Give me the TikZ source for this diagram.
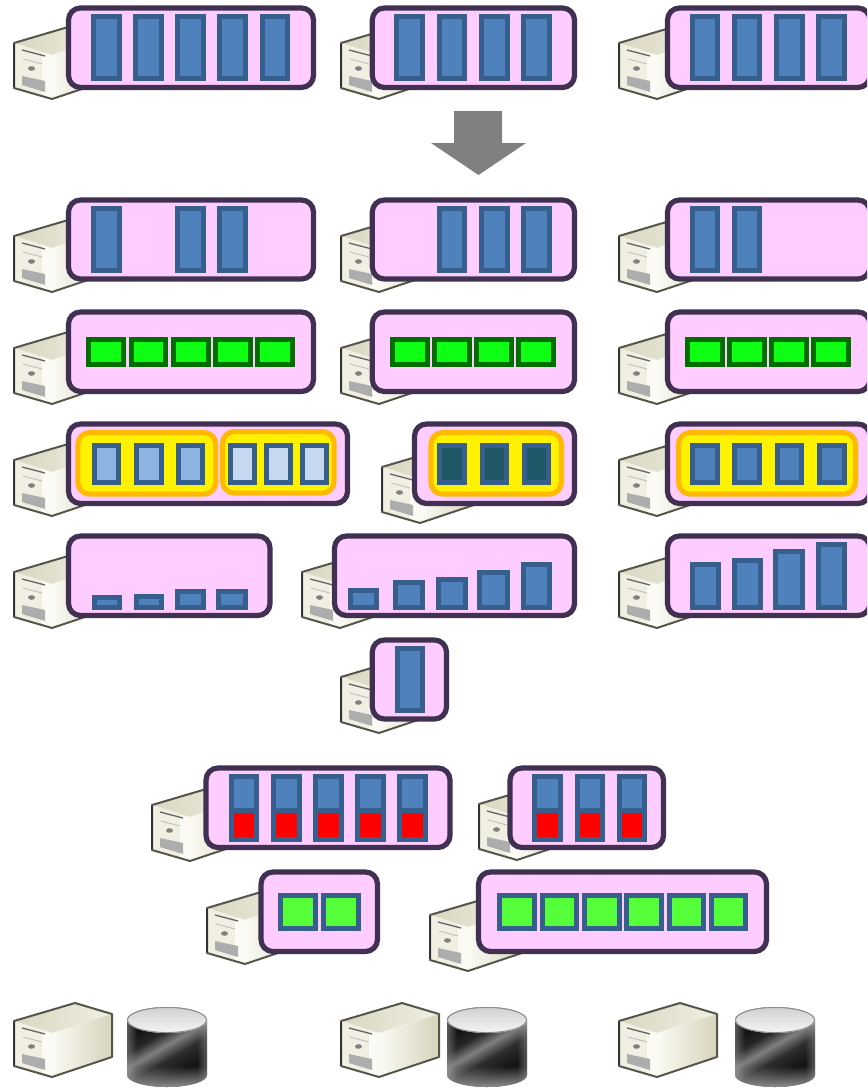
\documentclass[tikz,border=0pt]{standalone}
\usepackage{tikz}
\usetikzlibrary{fadings}
\definecolor{pillfill}{HTML}{FFCCFF}
\definecolor{pillline}{HTML}{403152}
\definecolor{barline}{HTML}{365F8E}
\definecolor{barfill}{HTML}{4F81BD}
\definecolor{lightA}{HTML}{8DB3E2}
\definecolor{lightB}{HTML}{C6D9F0}
\definecolor{tealbar}{HTML}{215868}
\definecolor{greenA}{HTML}{0FFF14}
\definecolor{greenline}{HTML}{006F00}
\definecolor{greenB}{HTML}{55FF3A}
\definecolor{ringline}{HTML}{FFB900}
\definecolor{srvA}{HTML}{D9D7C0}
\definecolor{srvB}{HTML}{FBFAF4}
\definecolor{srvC}{HTML}{D6D4BC}
\definecolor{srvD}{HTML}{F0EFE2}
\definecolor{srvEdge}{HTML}{55554C}
\definecolor{arrowgray}{HTML}{808080}
\pgfdeclarehorizontalshading{cylbody}{100bp}{
 color(0bp)=(black!85!white);
 color(36bp)=(black!92!white);
 color(43bp)=(black!85!white);
 color(50bp)=(black!50!white);
 color(57bp)=(black!82!white);
 color(66bp)=(black!92!white);
 color(100bp)=(black!85!white)}
\tikzset{
 pillbox/.style={draw=pillline,fill=pillfill,line width=3.9pt,rounded corners=9pt},
 barbox/.style={draw=barline,line width=3.75pt,miter limit=10},
 ringbox/.style={draw=ringline,fill=yellow,line width=3.75pt,rounded corners=9pt},
 greenbox/.style={draw=greenline,fill=greenA,line width=3.75pt},
 srvline/.style={draw=srvEdge,line width=1.5pt,line join=round}
}
% server: #1,#2 = left top vertex
\newcommand{\srv}[2]{%
 \begin{scope}[shift={(#1,#2)}]
  \shade[left color=srvA,right color=srvD] (0,0)--(61,-18)--(98,-7)--(38,12)--cycle;
  \shade[left color=srvB,right color=srvC] (38,12)--(98,-7)--(98,36)--(38,56)--cycle;
  \fill[srvD] (0,0)--(38,12)--(38,56)--(0,45)--cycle;
  \fill[srvB] (28,10)--(38,12)--(38,56)--(28,53)--cycle;
  \draw[black!60,line width=1pt] (8,7)--(31,13);
  \draw[black!25,line width=.7pt] (9,16)--(28,21);
  \fill[black!50] (17.5,25.5) ellipse (3.5 and 2.3);
  \fill[black!32] (8,33)--(31,38)--(31,49)--(8,42)--cycle;
  \draw[srvline] (0,0)--(61,-18)--(98,-7)--(98,36)--(38,56)--(0,45)--cycle;
  \draw[black!80,line width=1.7pt] (0,1)--(0,44);
 \end{scope}}
\newcommand{\pillb}[4]{\draw[pillbox] (#1,#3) rectangle (#2,#4);}
\newcommand{\ringb}[4]{\draw[ringbox] (#1+2.5,#3+2.5) rectangle (#2-2.5,#4-2.5);}
% outer x1 x2 y1 y2 fill
\newcommand{\barb}[5]{\draw[barbox,fill=#5] (#1+2.5,#3+2.5) rectangle (#2-2.5,#4-2.5);}
\newcommand{\grn}[2]{\draw[greenbox] (#1+2.5,339.2) rectangle (#2-2.5,364.8);}
\newcommand{\lgr}[2]{\draw[barbox,fill=greenB] (#1+2.5,895.8) rectangle (#2-2.5,928.2);}
\newcommand{\rdb}[2]{\fill[barline] (#1,774.3) rectangle (#2,842);
 \fill[barfill] (#1+5,779.3) rectangle (#2-5,807.7);
 \fill[red] (#1+5,813.3) rectangle (#2-5,837);}
\newcommand{\cyl}[1]{%
 \begin{scope}[shift={(#1,0)}]
  \begin{scope}
   \clip (0,1020) -- (0,1075) arc[start angle=180,end angle=0,x radius=40,y radius=12] -- (80,1020) arc[start angle=0,end angle=-180,x radius=40,y radius=13] -- cycle;
   \shade[shading=cylbody,shading angle=-60] (-10,1000) rectangle (90,1090);
   \fill[black!30,path fading=north,opacity=.8] (-1,1066) rectangle (81,1088);
   \fill[black!40,path fading=east,opacity=.5] (0,1020) rectangle (10,1088);
   \fill[black!40,path fading=west,opacity=.5] (70,1020) rectangle (80,1088);
  \end{scope}
  \shade[top color=black!18,bottom color=black!4] (40,1020) ellipse (40 and 13);
  \draw[black!45,line width=.7pt] (40,1020) ellipse (39.5 and 12.5);
 \end{scope}}
\begin{document}
\begin{tikzpicture}[x=0.75pt,y=-0.75pt]
\useasboundingbox (0,0) rectangle (867,1088);
\clip (0,0) rectangle (867,1088);
% row 1
\srv{14}{43}\pillb{68.5}{313.5}{8}{87.5}
\foreach \a/\b in {91/121.7,133/163.7,175.3/206,217.3/248,259.7/290.3}{\barb{\a}{\b}{13.7}{81.3}{barfill}}
\srv{341}{43}\pillb{372.3}{574.5}{8}{87.5}
\foreach \a/\b in {394.4/424.9,436.8/467.3,479/509.5,521/552}{\barb{\a}{\b}{13.7}{81.3}{barfill}}
\srv{619}{43}\pillb{667.5}{870}{8}{87.5}
\foreach \a/\b in {689.6/720.4,732/762,774/804.7,816.3/847}{\barb{\a}{\b}{13.7}{81.3}{barfill}}
% arrow
\fill[arrowgray] (454,111)--(502,111)--(502,143)--(526,143)--(478.5,175)--(431,143)--(454,143)--cycle;
% row 2
\srv{14}{236}\pillb{68.5}{313.5}{200}{279}
\foreach \a/\b in {91/121.7,175.3/206,217.3/248}{\barb{\a}{\b}{206}{273.3}{barfill}}
\srv{341}{236}\pillb{372.3}{574.5}{200}{279}
\foreach \a/\b in {436.8/467.3,479/509.5,521/552}{\barb{\a}{\b}{206}{273.3}{barfill}}
\srv{619}{236}\pillb{667.5}{870}{200}{279}
\foreach \a/\b in {689.6/720.4,732/762}{\barb{\a}{\b}{206}{273.3}{barfill}}
% row 3
\srv{14}{348}\pillb{68.5}{313.5}{312}{391.5}
\foreach \a/\b in {86.3/126.3,129/168.3,171/211,213/253,255.3/295}{\grn{\a}{\b}}
\srv{341}{348}\pillb{372.3}{574.5}{312}{391.5}
\foreach \a/\b in {390/430,432/472,474/514,516/556}{\grn{\a}{\b}}
\srv{619}{348}\pillb{667.5}{870}{312}{391.5}
\foreach \a/\b in {685/725,727/767,769/809,811/851}{\grn{\a}{\b}}
% row 4
\srv{14}{460}\pillb{68.5}{347.5}{424}{503.5}
\ringb{75.3}{218.3}{430}{496.7}\ringb{220}{336.7}{429}{495.7}
\foreach \a/\b in {91.7/121,133.7/163.7,176/205.3}{\barb{\a}{\b}{442.7}{485.3}{lightA}}
\foreach \a/\b in {228/257,264/293,300/329}{\barb{\a}{\b}{442.7}{485.3}{lightB}}
\srv{382}{467}\pillb{414.5}{574.5}{424}{503.5}
\ringb{428.3}{564}{430}{496.7}
\foreach \a/\b in {437/467,479.7/509.4,521.8/551}{\barb{\a}{\b}{442.7}{485.3}{tealbar}}
\srv{619}{460}\pillb{667.5}{870}{424}{503.5}
\ringb{676}{858}{430}{496.7}
\foreach \a/\b in {690/720,732.4/762,774.5/804,817/846.5}{\barb{\a}{\b}{442.7}{485.3}{barfill}}
% row 5
\srv{14}{572}\pillb{68.5}{270}{536}{615.5}
\foreach \a/\b/\t in {92.3/121.7/595,134.3/163.7/593.7,175.3/206/589.3,216/248/589.3}{\barb{\a}{\b}{\t}{610}{barfill}}
\srv{302}{572}\pillb{334.5}{574.5}{536}{615.5}
\foreach \a/\b/\t in {348/378.6/587.7,393.4/424.9/580.3,436/467.7/577.3,476.6/509.8/570,521/552/562}{\barb{\a}{\b}{\t}{610}{barfill}}
\srv{619}{572}\pillb{667.5}{870}{536}{615.5}
\foreach \a/\b/\t in {689.6/720.8/562,732/762.5/557.7,773/804.7/548.7,816.3/847/542.3}{\barb{\a}{\b}{\t}{610}{barfill}}
% row 6
\srv{341}{677}\pillb{372.3}{446.5}{640}{719}
\barb{394.7}{424.9}{646}{713}{barfill}
% row 7
\srv{152}{805}\pillb{206}{450}{768}{847.5}
\foreach \a/\b in {228.7/259.3,271/301.7,313/343.7,355.3/386,397.3/428}{\rdb{\a}{\b}}
\srv{479}{804}\pillb{510}{663.5}{768}{847.5}
\foreach \a/\b in {532.3/563,574.7/605.3,616.7/647.3}{\rdb{\a}{\b}}
% row 8
\srv{207}{908}\pillb{261}{377.5}{872}{951.5}
\foreach \a/\b in {278.3/318.3,321/360.7}{\lgr{\a}{\b}}
\srv{430}{915}\pillb{478.5}{766.5}{872}{951.5}
\foreach \a/\b in {497.3/537,539.7/579,582.3/622,624.3/664,666.7/706.3,708.7/748.3}{\lgr{\a}{\b}}
% bottom
\srv{14}{1021}\cyl{127}
\srv{341}{1021}\cyl{447}
\srv{619}{1021}\cyl{735}
\end{tikzpicture}
\end{document}
